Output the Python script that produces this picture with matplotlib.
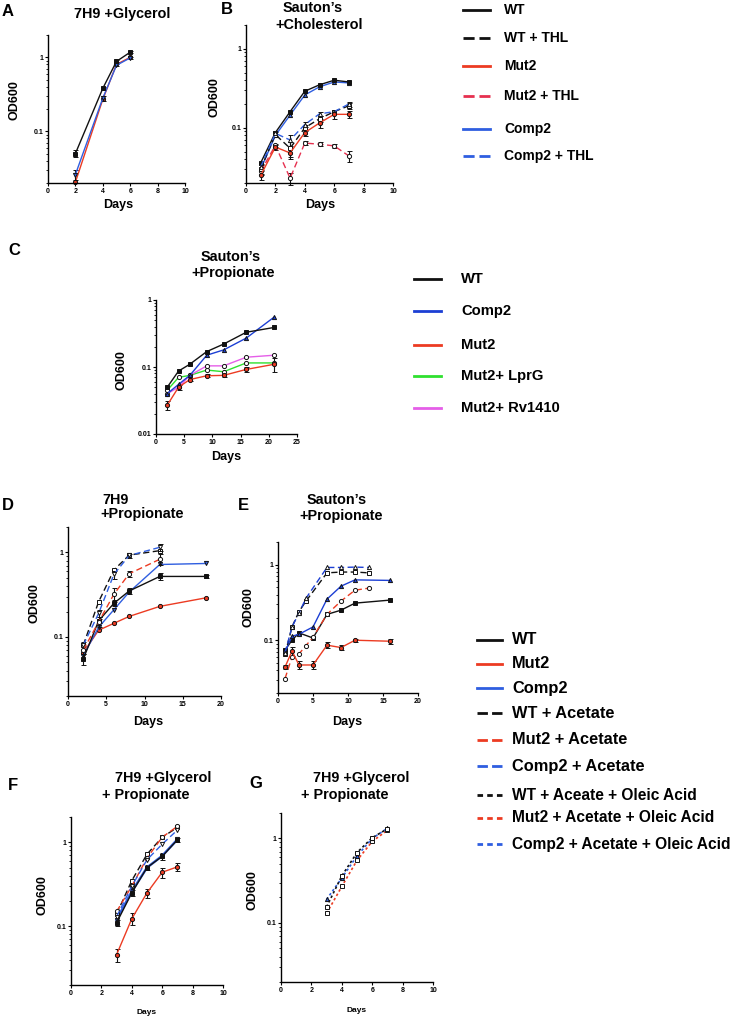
import matplotlib
matplotlib.use('Agg')
import matplotlib.pyplot as plt
from matplotlib.ticker import FixedLocator, NullFormatter, LogLocator, FixedFormatter
from matplotlib.lines import Line2D

plt.rcParams['font.family'] = ['Liberation Sans', 'DejaVu Sans']
plt.rcParams['font.weight'] = 'bold'
plt.rcParams['lines.scale_dashes'] = False

# ---------------- data ----------------
# Panel A: 7H9 + Glycerol
A_days = [2, 4, 5, 6]
A_wt = [0.05, 0.38, 0.88, 1.17]
A_mut2 = [0.0205, 0.27, 0.80, 1.0]
A_comp2 = [0.026, 0.28, 0.78, 0.98]
A_wt_err = [0.005, 0.02, 0.03, 0.04]
A_comp2_err = [0.004, 0.02, 0.02, 0.02]

# Panel B: Sauton's + Cholesterol
B_days = [1, 2, 3, 4, 5, 6, 7]
B_wt = [0.036, 0.087, 0.16, 0.29, 0.35, 0.40, 0.38]
B_wt_thl = [0.030, 0.082, 0.055, 0.10, 0.13, 0.16, 0.19]
B_mut2 = [0.025, 0.057, 0.048, 0.087, 0.115, 0.148, 0.148]
B_mut2_thl = [0.028, 0.060, 0.023, 0.064, 0.062, 0.059, 0.044]
B_comp2 = [0.030, 0.080, 0.145, 0.26, 0.33, 0.38, 0.37]
B_comp2_thl = [0.032, 0.085, 0.070, 0.11, 0.15, 0.16, 0.20]
B_wt_thl_err = [0.004, 0.006, 0.012, 0.008, 0.01, 0.01, 0.015]
B_mut2_err = [0.003, 0.004, 0.008, 0.008, 0.015, 0.02, 0.015]
B_mut2_thl_err = [0.003, 0.003, 0.004, 0.004, 0.004, 0.004, 0.007]
B_comp2_thl_err = [0.003, 0.006, 0.012, 0.008, 0.01, 0.01, 0.015]

# Panel C: Sauton's + Propionate
C_days = [2, 4, 6, 9, 12, 16, 21]
C_wt = [0.05, 0.087, 0.11, 0.17, 0.22, 0.33, 0.39]
C_comp2 = [0.04, 0.055, 0.075, 0.15, 0.18, 0.27, 0.56]
C_mut2 = [0.027, 0.05, 0.065, 0.074, 0.075, 0.092, 0.11]
C_lprg = [0.045, 0.07, 0.075, 0.09, 0.085, 0.115, 0.115]
C_rv1410 = [0.04, 0.05, 0.075, 0.104, 0.104, 0.14, 0.15]
C_mut2_err = [0.004, 0.004, 0.004, 0.004, 0.004, 0.008, 0.025]

# Panel D: 7H9 + Propionate
D_days = [2, 4, 6, 8, 12, 18]
D_wt = [0.055, 0.155, 0.25, 0.35, 0.52, 0.52]
D_mut2 = [0.065, 0.12, 0.145, 0.175, 0.23, 0.29]
D_comp2 = [0.06, 0.13, 0.21, 0.34, 0.72, 0.74]
D_ac_days = [2, 4, 6, 8, 12]
D_wt_ac = [0.08, 0.26, 0.62, 0.93, 1.05]
D_mut2_ac = [0.07, 0.15, 0.32, 0.56, 0.83]
D_comp2_ac = [0.08, 0.19, 0.55, 0.92, 1.15]
D_wt_err = [0.008, 0.01, 0.02, 0.03, 0.05, 0.02]
D_ac_err = [0.008, 0.02, 0.06, 0.05, 0.12]

# Panel E: Sauton's + Propionate
E_days = [1, 2, 3, 5, 7, 9, 11, 16]
E_wt = [0.074, 0.10, 0.125, 0.107, 0.22, 0.25, 0.31, 0.34]
E_mut2 = [0.044, 0.072, 0.047, 0.047, 0.086, 0.08, 0.10, 0.097]
E_comp2 = [0.07, 0.113, 0.12, 0.15, 0.35, 0.52, 0.63, 0.62]
E_ac_days = [1, 2, 3, 4, 7, 9, 11, 13]
E_wt_ac = [0.065, 0.15, 0.24, 0.33, 0.78, 0.80, 0.80, 0.78]
E_comp2_ac = [0.068, 0.15, 0.23, 0.36, 0.92, 0.92, 0.93, 0.92]
E_mut2_ac_days = [1, 2, 3, 4, 5, 7, 9, 11, 13]
E_mut2_ac = [0.031, 0.06, 0.066, 0.085, 0.11, 0.22, 0.33, 0.46, 0.49]
E_mut2_err = [0.003, 0.01, 0.006, 0.006, 0.008, 0.006, 0.004, 0.008]

# Panel F: 7H9 + Glycerol + Propionate
F_days = [3, 4, 5, 6, 7]
F_wt = [0.11, 0.25, 0.50, 0.68, 1.07]
F_mut2 = [0.046, 0.123, 0.25, 0.44, 0.51]
F_comp2 = [0.12, 0.26, 0.50, 0.69, 1.08]
F_wt_ac = [0.14, 0.35, 0.72, 1.15, 1.5]
F_mut2_ac = [0.15, 0.30, 0.65, 1.15, 1.55]
F_comp2_ac = [0.13, 0.30, 0.62, 0.95, 1.4]
F_err = [0.008, 0.02, 0.03, 0.06, 0.06]

# Panel G: 7H9 + Glycerol + Propionate (+ Acetate + Oleic acid)
G_days = [3, 4, 5, 6, 7]
G_wt_ol = [0.155, 0.36, 0.68, 1.02, 1.3]
G_mut2_ol = [0.13, 0.27, 0.55, 0.92, 1.25]
G_comp2_ol = [0.19, 0.34, 0.62, 1.0, 1.32]

legend1_labels = ["WT", "WT + THL", "Mut2", "Mut2 + THL", "Comp2", "Comp2 + THL"]
legend2_labels = ["WT", "Comp2", "Mut2", "Mut2+ LprG", "Mut2+ Rv1410"]
legend3_labels = ["WT", "Mut2", "Comp2", "WT + Acetate", "Mut2 + Acetate",
                  "Comp2 + Acetate", "WT + Aceate + Oleic Acid",
                  "Mut2 + Acetate + Oleic Acid", "Comp2 + Acetate + Oleic Acid"]

# ---------------- styles ----------------
BLACK = '#111111'
RED = '#ec3b22'
PINK = '#e6304f'
BLUE = '#2f5ee0'
CBLUE = '#1c3fd4'
GREEN = '#2fe02f'
MAGENTA = '#e55ee8'
DASH = (0, (4.5, 2.5))
DOT = (0, (1.8, 1.8))

W, H = 736, 1019
fig = plt.figure(figsize=(W / 100, H / 100), dpi=100)
fig.patch.set_facecolor('white')


def px_axes(l, t, r, b):
    return fig.add_axes([l / W, 1 - b / H, (r - l) / W, (b - t) / H])


def ftext(x, y, s, size, ha='center', va='center', **kw):
    fig.text(x / W, 1 - y / H, s, fontsize=size, fontweight='bold',
             ha=ha, va=va, **kw)


def style_axes(ax, xlim, xticks, ylim, yticks):
    ax.set_yscale('log')
    ax.set_xlim(*xlim)
    ax.set_ylim(*ylim)
    for s in ['top', 'right']:
        ax.spines[s].set_visible(False)
    for s in ['left', 'bottom']:
        ax.spines[s].set_linewidth(1.0)
    ax.set_xticks(xticks)
    ax.set_xticklabels([str(t) for t in xticks])
    ax.yaxis.set_major_locator(FixedLocator(yticks))
    ax.yaxis.set_major_formatter(FixedFormatter([('%g' % t) for t in yticks]))
    ax.yaxis.set_minor_locator(LogLocator(base=10, subs=range(2, 10)))
    ax.yaxis.set_minor_formatter(NullFormatter())
    ax.tick_params(axis='both', which='major', labelsize=5, length=2.5,
                   width=0.8, pad=1)
    ax.tick_params(axis='y', which='minor', length=1.5, width=0.6)
    ax.tick_params(axis='x', which='minor', length=0)
    ax.patch.set_alpha(0)


def series(ax, x, y, color, ls='-', marker='s', filled=True, err=None,
           lw=1.0, ms=3.0):
    mfc = color if filled else 'white'
    mec = BLACK
    if err is not None:
        ax.errorbar(x, y, yerr=err, color=color, ls=ls, lw=lw, marker=marker,
                    ms=ms, mfc=mfc, mec=mec, mew=0.7, ecolor=BLACK,
                    elinewidth=0.8, capsize=1.8, capthick=0.8, clip_on=False)
    else:
        ax.plot(x, y, color=color, ls=ls, lw=lw, marker=marker, ms=ms,
                mfc=mfc, mec=mec, mew=0.7, clip_on=False)


def legend_row(x0, x1, xt, y, color, ls, label, size=10, lw=2.0):
    fig.add_artist(Line2D([x0 / W, x1 / W], [1 - y / H, 1 - y / H],
                          color=color, ls=ls, lw=lw, transform=fig.transFigure))
    ftext(xt, y, label, size, ha='left')


TS = 10.4   # title size
PL = 12     # panel letter size

# ---------------- Panel A ----------------
axA = px_axes(48, 35, 185, 183)
style_axes(axA, (0, 10), [0, 2, 4, 6, 8, 10], (0.02, 2), [0.1, 1])
series(axA, A_days, A_mut2, RED, marker='o')
series(axA, A_days, A_comp2, BLUE, marker='v', err=A_comp2_err)
series(axA, A_days, A_wt, BLACK, marker='s', err=A_wt_err)
ftext(8, 11, 'A', PL)
ftext(122, 14, '7H9 +Glycerol', TS)
ftext(15, 100, 'OD600', 9, rotation=90)
ftext(118, 205, 'Days', 9)

# ---------------- Panel B ----------------
axB = px_axes(246, 25, 393, 183)
style_axes(axB, (0, 10), [0, 2, 4, 6, 8, 10], (0.02, 2), [0.1, 1])
series(axB, B_days, B_mut2_thl, PINK, ls=DASH, marker='o', filled=False,
       err=B_mut2_thl_err)
series(axB, B_days, B_wt_thl, BLACK, ls=DASH, marker='s', filled=False,
       err=B_wt_thl_err)
series(axB, B_days, B_comp2_thl, BLUE, ls=DASH, marker='^', filled=False,
       err=B_comp2_thl_err)
series(axB, B_days, B_mut2, RED, marker='o', err=B_mut2_err)
series(axB, B_days, B_comp2, BLUE, marker='^')
series(axB, B_days, B_wt, BLACK, marker='s')
ftext(227, 9, 'B', PL)
ftext(313, 8, 'Sauton\u2019s', TS)
ftext(319, 25, '+Cholesterol', TS)
ftext(215, 97, 'OD600', 9, rotation=90)
ftext(320, 205, 'Days', 9)

# legend 1
leg1_y = [10, 38, 66, 96, 129, 156]
leg1_c = [BLACK, BLACK, RED, PINK, BLUE, BLUE]
leg1_ls = ['-', (0, (8, 3.5)), '-', (0, (8, 3.5)), '-', (0, (8, 3.5))]
for yy, c, ls, lab in zip(leg1_y, leg1_c, leg1_ls, legend1_labels):
    legend_row(463, 490, 504, yy, c, ls, lab, size=10)

# ---------------- Panel C ----------------
axC = px_axes(156, 300, 297, 434)
style_axes(axC, (0, 25), [0, 5, 10, 15, 20, 25], (0.01, 1), [0.01, 0.1, 1])
series(axC, C_days, C_mut2, RED, marker='o', err=C_mut2_err)
series(axC, C_days, C_lprg, GREEN, marker='o', filled=False)
series(axC, C_days, C_rv1410, MAGENTA, marker='o', filled=False)
series(axC, C_days, C_comp2, CBLUE, marker='^')
series(axC, C_days, C_wt, BLACK, marker='s')
ftext(14, 250, 'C', PL)
ftext(231, 257, 'Sauton\u2019s', TS)
ftext(233, 273, '+Propionate', TS)
ftext(122, 370, 'OD600', 9, rotation=90)
ftext(226, 457, 'Days', 9)

leg2_y = [279, 311, 345, 376, 408]
leg2_c = [BLACK, CBLUE, RED, GREEN, MAGENTA]
for yy, c, lab in zip(leg2_y, leg2_c, legend2_labels):
    legend_row(414, 441, 461, yy, c, '-', lab, size=10.6)

# ---------------- Panel D ----------------
axD = px_axes(68, 527, 221, 696)
style_axes(axD, (0, 20), [0, 5, 10, 15, 20], (0.02, 2), [0.1, 1])
series(axD, D_days, D_mut2, RED, marker='o')
series(axD, D_days, D_comp2, BLUE, marker='v')
series(axD, D_days, D_wt, BLACK, marker='s', err=D_wt_err)
series(axD, D_ac_days, D_mut2_ac, RED, ls=DASH, marker='o', filled=False,
       err=D_ac_err)
series(axD, D_ac_days, D_wt_ac, BLACK, ls=DASH, marker='s', filled=False)
series(axD, D_ac_days, D_comp2_ac, BLUE, ls=DASH, marker='v', filled=False,
       err=D_ac_err)
ftext(8, 506, 'D', PL)
ftext(102, 500, '7H9', TS, ha='left')
ftext(100, 514, '+Propionate', TS, ha='left')
ftext(35, 603, 'OD600', 9, rotation=90)
ftext(148, 722, 'Days', 9)

# ---------------- Panel E ----------------
axE = px_axes(278, 542, 418, 693)
style_axes(axE, (0, 20), [0, 5, 10, 15, 20], (0.02, 2), [0.1, 1])
series(axE, E_days, E_mut2, RED, marker='o', err=E_mut2_err)
series(axE, E_days, E_wt, BLACK, marker='s')
series(axE, E_days, E_comp2, CBLUE, marker='^')
series(axE, E_mut2_ac_days, E_mut2_ac, RED, ls=DASH, marker='o', filled=False)
series(axE, E_ac_days, E_wt_ac, BLACK, ls=DASH, marker='s', filled=False)
series(axE, E_ac_days, E_comp2_ac, CBLUE, ls=DASH, marker='^', filled=False)
ftext(243, 505, 'E', PL)
ftext(337, 500, 'Sauton\u2019s', TS)
ftext(341, 516, '+Propionate', TS)
ftext(249, 607, 'OD600', 9, rotation=90)
ftext(347, 722, 'Days', 9)

# legend 3
leg3_y = [640, 664, 688, 713, 740, 766, 795, 818, 844]
leg3_c = [BLACK, RED, BLUE, BLACK, RED, BLUE, BLACK, RED, BLUE]
leg3_ls = ['-', '-', '-', (0, (7.5, 3)), (0, (7.5, 3)), (0, (7.5, 3)),
           (0, (4, 3)), (0, (4, 3)), (0, (4, 3))]
leg3_sz = [11.8, 11.8, 11.8, 11.8, 11.8, 11.8, 11.2, 11.2, 11.2]
for yy, c, ls, lab, sz in zip(leg3_y, leg3_c, leg3_ls, legend3_labels, leg3_sz):
    legend_row(477, 502, 512, yy, c, ls, lab, size=sz)

# ---------------- Panel F ----------------
axF = px_axes(71, 817, 223, 985)
style_axes(axF, (0, 10), [0, 2, 4, 6, 8, 10], (0.02, 2), [0.1, 1])
series(axF, F_days, F_mut2, RED, marker='o', err=F_err)
series(axF, F_days, F_wt, BLACK, marker='s', err=F_err)
series(axF, F_days, F_comp2, BLUE, marker='v', lw=1.8)
series(axF, F_days, F_wt_ac, BLACK, ls=DASH, marker='s', filled=False)
series(axF, F_days, F_mut2_ac, RED, ls=DASH, marker='o', filled=False)
series(axF, F_days, F_comp2_ac, BLUE, ls=DASH, marker='v', filled=False)
ftext(13, 786, 'F', PL)
ftext(163, 778, '7H9 +Glycerol', TS)
ftext(146, 795, '+ Propionate', TS)
ftext(42, 895, 'OD600', 9, rotation=90)
ftext(147, 1012, 'Days', 6)

# ---------------- Panel G ----------------
axG = px_axes(281, 813, 433, 982)
style_axes(axG, (0, 10), [0, 2, 4, 6, 8, 10], (0.02, 2), [0.1, 1])
series(axG, G_days, G_mut2_ol, RED, ls=DOT, marker='s', filled=False, lw=1.2)
series(axG, G_days, G_comp2_ol, BLUE, ls=DOT, marker='^', filled=True, lw=1.2)
series(axG, G_days, G_wt_ol, BLACK, ls=DOT, marker='s', filled=False, lw=1.2)
ftext(256, 784, 'G', PL)
ftext(361, 778, '7H9 +Glycerol', TS)
ftext(345, 795, '+ Propionate', TS)
ftext(252, 890, 'OD600', 9, rotation=90)
ftext(357, 1011, 'Days', 6)

fig.savefig('out.png', dpi=100, facecolor='white')
